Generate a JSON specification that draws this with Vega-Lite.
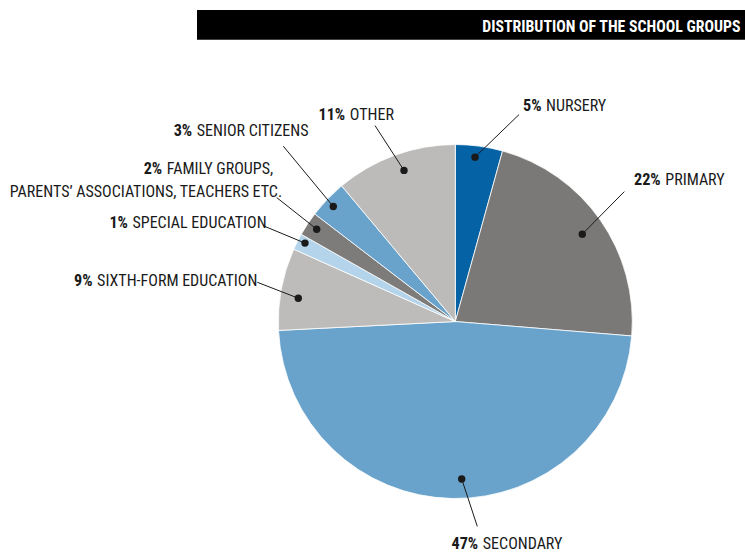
{
  "$schema": "https://vega.github.io/schema/vega-lite/v6.json",
  "width": 745,
  "height": 552,
  "autosize": {"type": "fit", "contains": "padding"},
  "padding": 0,
  "background": "white",
  "config": {"view": {"stroke": null}, "font": "Roboto Condensed"},
  "datasets": {
    "slices": [
      {"group": "Nursery", "share": 4.3, "order": 1, "dotX": 11.13, "dotY": 93.22, "endX": 35.99, "endY": 117.34},
      {"group": "Primary", "share": 22.0, "order": 2, "dotX": 71.75, "dotY": 49.55, "endX": 95.48, "endY": 73.67},
      {"group": "Secondary", "share": 47.9, "order": 3, "dotX": 3.62, "dotY": -89.27, "endX": 12.43, "endY": -116.16},
      {"group": "Sixth-form education", "share": 7.5, "order": 4, "dotX": -88.7, "dotY": 13.22, "endX": -111.86, "endY": 22.26},
      {"group": "Special education", "share": 1.5, "order": 5, "dotX": -84.92, "dotY": 44.46, "endX": -107.51, "endY": 53.9},
      {"group": "Family groups", "share": 2.2, "order": 6, "dotX": -78.31, "dotY": 52.37, "endX": -100.9, "endY": 70.28},
      {"group": "Senior citizens", "share": 3.5, "order": 7, "dotX": -68.93, "dotY": 65.2, "endX": -97.18, "endY": 99.44},
      {"group": "Other", "share": 11.1, "order": 8, "dotX": -28.98, "dotY": 85.71, "endX": -45.37, "endY": 111.13}
    ],
    "labels": [
      {"bold": "5%", "text": "NURSERY", "x": 50.0, "y": 119.21},
      {"bold": "22%", "text": "PRIMARY", "x": 117.34, "y": 77.4},
      {"bold": "47%", "text": "SECONDARY", "x": 14.24, "y": -128.7},
      {"bold": "9%", "text": "SIXTH-FORM EDUCATION", "x": -203.67, "y": 20.34},
      {"bold": "1%", "text": "SPECIAL EDUCATION", "x": -183.67, "y": 52.94},
      {"bold": "2%", "text": "FAMILY GROUPS,", "x": -164.29, "y": 83.84},
      {"bold": "", "text": "PARENTS’ ASSOCIATIONS, TEACHERS ETC.", "x": -252.99, "y": 70.62},
      {"bold": "3%", "text": "SENIOR CITIZENS", "x": -147.34, "y": 105.08},
      {"bold": "11%", "text": "OTHER", "x": -60.9, "y": 114.12}
    ],
    "banner": [
      {"x": -145.93, "x2": 163.67, "y": 176.67, "y2": 159.72, "tx": 161.13, "ty": 164.24, "text": "DISTRIBUTION OF THE SCHOOL GROUPS"}
    ]
  },
  "layer": [
    {
      "data": {"name": "slices"},
      "mark": {"type": "arc", "outerRadius": 177, "stroke": "white", "strokeWidth": 0.8},
      "encoding": {
        "x": {"datum": 0, "type": "quantitative", "scale": {"domain": [-257.23, 163.67], "nice": false, "zero": false}, "axis": null},
        "y": {"datum": 0, "type": "quantitative", "scale": {"domain": [-129.55, 182.32], "nice": false, "zero": false}, "axis": null},
        "theta": {"field": "share", "type": "quantitative", "stack": true},
        "order": {"field": "order", "type": "quantitative"},
        "color": {
          "field": "group", "type": "nominal", "legend": null,
          "scale": {
            "domain": ["Nursery", "Primary", "Secondary", "Sixth-form education", "Special education", "Family groups", "Senior citizens", "Other"],
            "range": ["#0563a5", "#7a7977", "#69a3cb", "#bdbcbb", "#b3d4ea", "#7d7c7a", "#69a3cb", "#bcbbba"]
          }
        }
      }
    },
    {
      "data": {"name": "slices"},
      "mark": {"type": "rule", "color": "#1a1a1a", "strokeWidth": 1},
      "encoding": {
        "x": {"field": "dotX", "type": "quantitative"},
        "y": {"field": "dotY", "type": "quantitative"},
        "x2": {"field": "endX"},
        "y2": {"field": "endY"}
      }
    },
    {
      "data": {"name": "slices"},
      "mark": {"type": "point", "filled": true, "opacity": 1, "color": "#1a1a1a", "size": 55},
      "encoding": {
        "x": {"field": "dotX", "type": "quantitative"},
        "y": {"field": "dotY", "type": "quantitative"}
      }
    },
    {
      "data": {"name": "labels"},
      "mark": {"type": "text", "align": "right", "baseline": "alphabetic", "fontWeight": "bold", "fontSize": 16.2, "dx": -2.3, "color": "#1a1a1a"},
      "encoding": {
        "x": {"field": "x", "type": "quantitative"},
        "y": {"field": "y", "type": "quantitative"},
        "text": {"field": "bold"}
      }
    },
    {
      "data": {"name": "labels"},
      "mark": {"type": "text", "align": "left", "baseline": "alphabetic", "fontSize": 16, "dx": 2.3, "color": "#1a1a1a"},
      "encoding": {
        "x": {"field": "x", "type": "quantitative"},
        "y": {"field": "y", "type": "quantitative"},
        "text": {"field": "text"}
      }
    },
    {
      "data": {"name": "banner"},
      "mark": {"type": "rect", "color": "black"},
      "encoding": {
        "x": {"field": "x", "type": "quantitative"},
        "x2": {"field": "x2"},
        "y": {"field": "y", "type": "quantitative"},
        "y2": {"field": "y2"}
      }
    },
    {
      "data": {"name": "banner"},
      "mark": {"type": "text", "align": "right", "baseline": "alphabetic", "fontWeight": "bold", "fontSize": 15.8, "color": "white"},
      "encoding": {
        "x": {"field": "tx", "type": "quantitative"},
        "y": {"field": "ty", "type": "quantitative"},
        "text": {"field": "text"}
      }
    }
  ]
}
